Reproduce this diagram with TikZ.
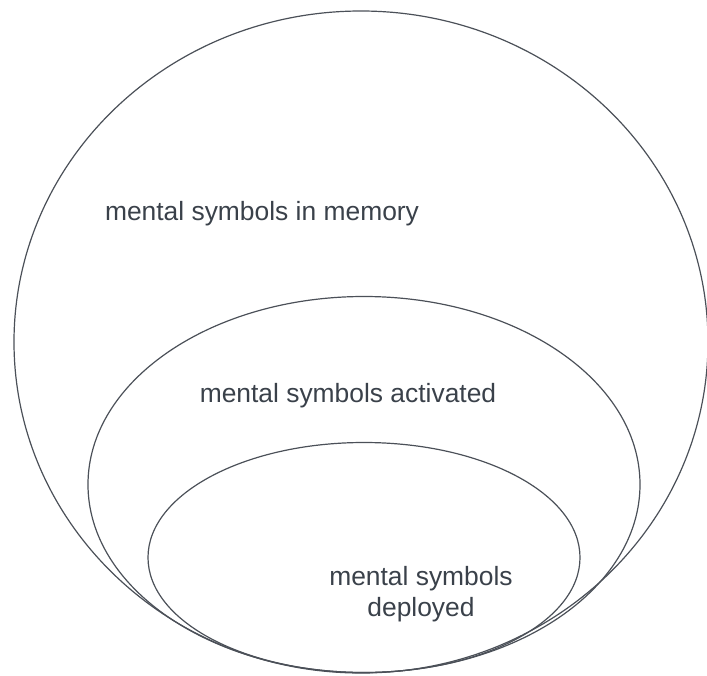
\documentclass[tikz,border=0pt]{standalone}
\usepackage{fontspec}
\setmainfont{Liberation Sans}
\usepackage{xcolor}
\usepackage{tikz}
\usetikzlibrary{positioning}
\definecolor{ringgrey}{RGB}{75,80,88}
\definecolor{labelgrey}{RGB}{58,65,74}
\tikzset{
  ring/.style={draw=ringgrey, line width=0.9pt},
  setlabel/.style={inner sep=0pt, text=labelgrey, align=center,
                   font=\fontsize{19.8}{23.25}\selectfont},
}
\begin{document}
\begin{tikzpicture}[x=0.75pt, y=-0.75pt]

  \useasboundingbox (0,0) rectangle (707,675);

  % ── Nested sets ──────────────────────────────────────────────────────
  \draw[ring] (361,342) ellipse [x radius=347, y radius=331];
  \draw[ring] (364,484.5) ellipse [x radius=276, y radius=188];
  \draw[ring] (364,557.5) ellipse [x radius=216, y radius=115];

  % ── Labels ───────────────────────────────────────────────────────────
  \node[setlabel, anchor=base] (memory) at (262,220.5) {mental symbols in memory};
  \node[setlabel, anchor=base] (activated) at (348,402) {mental symbols activated};
  \node[setlabel] (deployed) at (421,594) {mental symbols\\deployed};

\end{tikzpicture}
\end{document}
